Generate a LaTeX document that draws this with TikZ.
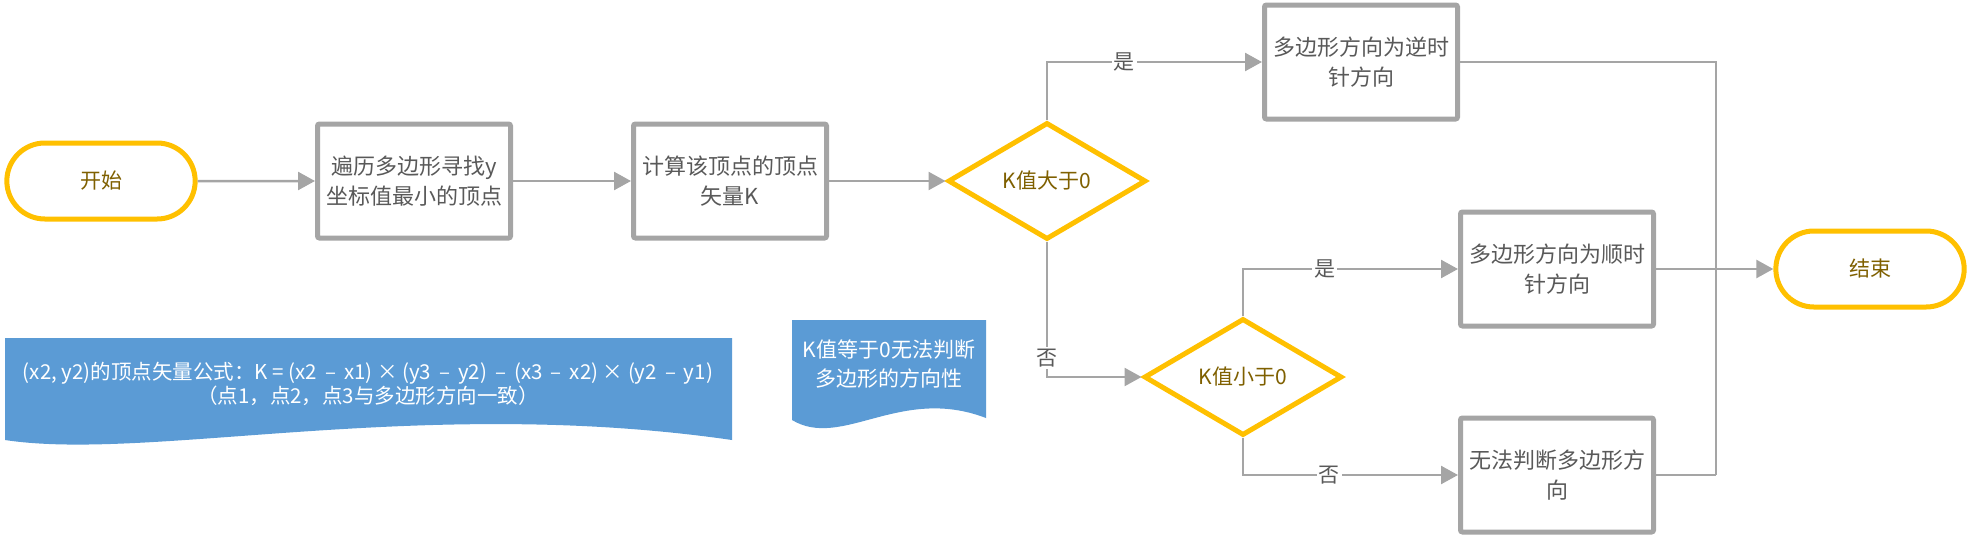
\documentclass[tikz,border=0pt]{standalone}
\usepackage{fontspec}
\setmainfont{Noto Sans CJK SC}
\usepackage{tikz}
\usetikzlibrary{arrows.meta}
\usetikzlibrary{shapes.geometric}
\usetikzlibrary{shapes.misc}

\definecolor{termgold}{HTML}{FFC000}
\definecolor{termtext}{HTML}{7F6000}
\definecolor{boxgrey}{HTML}{A5A5A5}
\definecolor{boxtext}{HTML}{595959}
\definecolor{notebl}{HTML}{5B9BD5}

\begin{document}
\begin{tikzpicture}[x=1pt, y=-1pt,
        terminal/.style={rounded rectangle, draw=termgold, line width=5pt, fill=white,
            minimum width=195pt, minimum height=76pt, text=termtext,
            font=\fontsize{21}{29}\selectfont},
        decide/.style={diamond, aspect=1.7, inner sep=0pt, draw=termgold, line width=5pt,
            fill=white, minimum width=198pt, minimum height=117pt, text=termtext,
            font=\fontsize{21}{29}\selectfont},
        procbox/.style={rectangle, rounded corners=2pt, draw=boxgrey, line width=5pt,
            fill=white, minimum width=193pt, minimum height=114pt, align=center,
            text=boxtext, font=\fontsize{22}{30}\selectfont},
        flow/.style={draw=boxgrey, line width=2.5pt, -{Triangle[length=17pt,width=18pt]}},
        joinline/.style={draw=boxgrey, line width=2.5pt},
        answer/.style={fill=white, inner sep=2pt, text=boxtext,
            font=\fontsize{21}{26}\selectfont},
        notetext/.style={text=white, align=center, inner sep=0pt},
    ]
    \useasboundingbox (0,0) rectangle (1971,538);

    % main row
    \node[terminal] (start) at (101,181) {开始};
    \node[procbox] (findlow) at (414,181) {遍历多边形寻找y\\坐标值最小的顶点};
    \node[procbox] (vecK) at (730,181) {计算该顶点的顶点\\矢量K};
    \node[decide] (bigger) at (1047,181) {K值大于0};

    % branches
    \node[procbox] (ccw) at (1361,62) {多边形方向为逆时\\针方向};
    \node[decide] (smaller) at (1243,377) {K值小于0};
    \node[procbox] (cw) at (1557,269) {多边形方向为顺时\\针方向};
    \node[procbox] (nodir) at (1557,475) {无法判断多边形方\\向};
    \node[terminal] (finish) at (1870,269) {结束};
    \coordinate (joinpt) at (1716,475);

    \draw[flow] (start) -- (findlow);
    \draw[flow] (findlow) -- (vecK);
    \draw[flow] (vecK) -- (bigger);
    \draw[flow] (bigger.north) |- node[answer, pos=0.68] {是} (ccw.west);
    \draw[flow] (bigger.south) |- node[answer, pos=0.43] {否} (smaller.west);
    \draw[flow] (smaller.north) |- node[answer, pos=0.69] {是} (cw.west);
    \draw[flow] (smaller.south) |- node[answer, pos=0.70] {否} (nodir.west);
    \draw[joinline] (ccw.east) -| (joinpt);
    \draw[joinline] (nodir.east) -- (joinpt);
    \draw[flow] (cw.east) -- (finish.west);

    % notes
    \fill[notebl] (5,338) -- (732,338) -- (732,440)
        .. controls (420,395) and (150,462) .. (5,440) -- cycle;
    \node[notetext, font=\fontsize{20.5}{22}\selectfont] (formula) at (368,384)
        {(x2, y2)的顶点矢量公式：K = (x2 \,–\, x1) × (y3 \,–\, y2) \,–\, (x3 \,–\, x2) × (y2 \,–\, y1)\\（点1，点2，点3与多边形方向一致）};
    \fill[notebl] (792,320) -- (986,320) -- (986,418)
        .. controls (900,385) and (842,450) .. (792,420) -- cycle;
    \node[notetext, font=\fontsize{21}{29}\selectfont] (zeronote) at (889,364)
        {K值等于0无法判断\\多边形的方向性};
\end{tikzpicture}
\end{document}
